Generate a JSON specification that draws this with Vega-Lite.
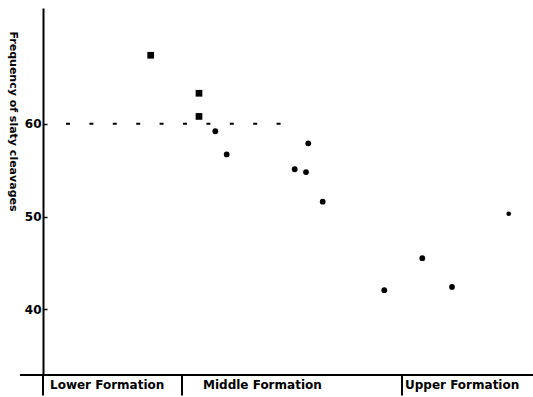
{
  "$schema": "https://vega.github.io/schema/vega-lite/v6.json",
  "width": 490,
  "height": 367,
  "autosize": {"type": "none"},
  "padding": {"left": 43, "top": 8, "right": 0, "bottom": 22},
  "background": "white",
  "config": {"view": {"stroke": null}, "font": "DejaVu Sans"},
  "datasets": {
    "pts": [
      {"pos": 107.7, "freq": 67.4, "kind": "square"},
      {"pos": 156, "freq": 63.3, "kind": "square"},
      {"pos": 156, "freq": 60.8, "kind": "square"},
      {"pos": 172.3, "freq": 59.2, "kind": "circle"},
      {"pos": 183.7, "freq": 56.7, "kind": "circle"},
      {"pos": 251.7, "freq": 55.1, "kind": "circle"},
      {"pos": 263, "freq": 54.8, "kind": "circle"},
      {"pos": 265.3, "freq": 57.9, "kind": "circle"},
      {"pos": 279.7, "freq": 51.6, "kind": "circle"},
      {"pos": 341.3, "freq": 42.05, "kind": "circle"},
      {"pos": 379.3, "freq": 45.5, "kind": "circle"},
      {"pos": 409, "freq": 42.4, "kind": "circle"},
      {"pos": 465.7, "freq": 50.3, "kind": "speck"}
    ],
    "ref": [{"x1": 23, "x2": 238, "y": 60}],
    "baseline": [{"x1": -23, "x2": 490, "y": 32.9}],
    "seps": [
      {"x": 0, "y1": 32.9, "y2": 30.7},
      {"x": 139, "y1": 32.9, "y2": 30.7},
      {"x": 359, "y1": 32.9, "y2": 30.7}
    ],
    "forms": [
      {"x": 7, "y": 31.8, "label": "Lower Formation"},
      {"x": 160, "y": 31.8, "label": "Middle Formation"},
      {"x": 362, "y": 31.8, "label": "Upper Formation"}
    ]
  },
  "layer": [
    {
      "data": {"name": "ref"},
      "mark": {"type": "rule", "color": "black", "strokeWidth": 2, "strokeDash": [4, 19.4]},
      "encoding": {
        "x": {"field": "x1", "type": "quantitative", "scale": {"domain": [0, 490], "nice": false, "zero": false}, "axis": null},
        "x2": {"field": "x2"},
        "y": {"field": "y", "type": "quantitative", "scale": {"domain": [32.9, 72.5], "nice": false, "zero": false},
          "axis": {
            "values": [40, 50, 60],
            "title": "Frequency of slaty cleavages",
            "titleAngle": 90,
            "titleX": -31,
            "titleY": 113,
            "titleAlign": "center",
            "titleBaseline": "middle",
            "titleFont": "DejaVu Sans",
            "titleFontSize": 11,
            "titleFontWeight": "bold",
            "titleColor": "black",
            "labelFont": "DejaVu Sans",
            "labelFontSize": 12,
            "labelFontWeight": "bold",
            "labelColor": "black",
            "labelPadding": 6,
            "tickSize": -4,
            "tickColor": "black",
            "tickWidth": 1.5,
            "domainColor": "black",
            "domainWidth": 2,
            "grid": false
          }
        }
      }
    },
    {
      "data": {"name": "baseline"},
      "mark": {"type": "rule", "color": "black", "strokeWidth": 2},
      "encoding": {
        "x": {"field": "x1", "type": "quantitative"},
        "x2": {"field": "x2"},
        "y": {"field": "y", "type": "quantitative"}
      }
    },
    {
      "data": {"name": "seps"},
      "mark": {"type": "rule", "color": "black", "strokeWidth": 2},
      "encoding": {
        "x": {"field": "x", "type": "quantitative"},
        "y": {"field": "y1", "type": "quantitative"},
        "y2": {"field": "y2"}
      }
    },
    {
      "data": {"name": "forms"},
      "mark": {"type": "text", "align": "left", "baseline": "middle", "font": "DejaVu Sans", "fontWeight": "bold", "fontSize": 12, "color": "black"},
      "encoding": {
        "x": {"field": "x", "type": "quantitative"},
        "y": {"field": "y", "type": "quantitative"},
        "text": {"field": "label"}
      }
    },
    {
      "data": {"name": "pts"},
      "mark": {"type": "point", "filled": true, "color": "black", "opacity": 1},
      "encoding": {
        "x": {"field": "pos", "type": "quantitative"},
        "y": {"field": "freq", "type": "quantitative"},
        "shape": {"field": "kind", "type": "nominal", "scale": {"domain": ["square", "circle", "speck"], "range": ["square", "circle", "circle"]}, "legend": null},
        "size": {"field": "kind", "type": "nominal", "scale": {"domain": ["square", "circle", "speck"], "range": [45, 22, 1.5]}, "legend": null}
      }
    }
  ]
}
